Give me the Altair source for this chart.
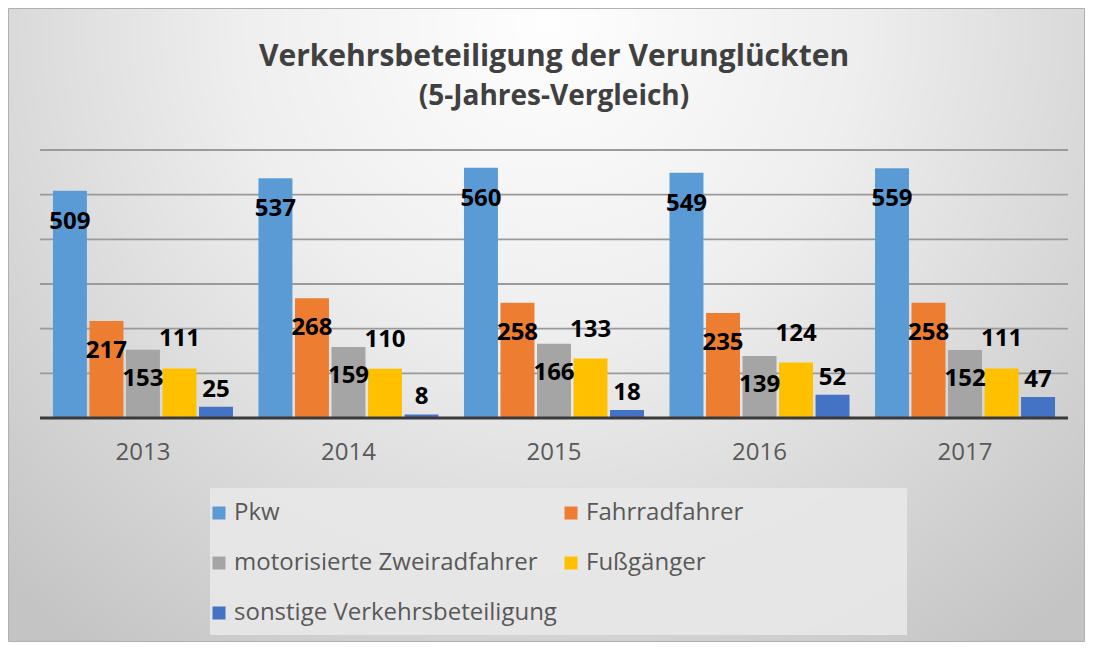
import altair as alt
import pandas as pd

YEARS = ["2013", "2014", "2015", "2016", "2017"]
SERIES = ["Pkw", "Fahrradfahrer", "motorisierte Zweiradfahrer", "Fußgänger",
          "sonstige Verkehrsbeteiligung"]
PKW = [509, 537, 560, 549, 559]
FAHRRAD = [217, 268, 258, 235, 258]
MOTOR = [153, 159, 166, 139, 152]
FUSS = [111, 110, 133, 124, 111]
SONST = [25, 8, 18, 52, 47]
GRID = [100, 200, 300, 400, 500, 600]
BASE = [0]
COLORS = ["#5B9BD5", "#ED7D31", "#A5A5A5", "#FFC000", "#4472C4"]
# legend is laid out column by column: order entries so rows read as in the reference
LEGEND_ORDER = [SERIES[0], SERIES[2], SERIES[4], SERIES[1], SERIES[3]]
LEGEND_COLORS = [COLORS[0], COLORS[2], COLORS[4], COLORS[1], COLORS[3]]

TITLE = "Verkehrsbeteiligung der Verunglückten"
SUBTITLE = "(5-Jahres-Vergleich)"

rows = []
for i, yr in enumerate(YEARS):
    for s, vals in zip(SERIES, [PKW, FAHRRAD, MOTOR, FUSS, SONST]):
        rows.append({"year": yr, "series": s, "value": vals[i]})
df = pd.DataFrame(rows)

FONT = "Open Sans"
W, H = 1028, 268

x_enc = alt.X("year:N", sort=YEARS,
              scale=alt.Scale(paddingInner=0.124, paddingOuter=0.063),
              axis=alt.Axis(title=None, labelFontSize=24, labelColor="#595959",
                            labelFont=FONT, ticks=False, domain=False, grid=False,
                            labelPadding=22, labelAngle=0, zindex=2))
xo_enc = alt.XOffset("series:N", sort=SERIES,
                     scale=alt.Scale(domain=SERIES, paddingInner=0.07, paddingOuter=0))
y_enc = alt.Y("value:Q", scale=alt.Scale(domain=[0, 600], nice=False, zero=True), axis=None)

bg = alt.Chart(pd.DataFrame({"k": [0]})).mark_rect(
    fill=alt.RadialGradient(
        gradient="radial",
        stops=[alt.GradientStop(offset=0, color="#fefefe"),
               alt.GradientStop(offset=0.4, color="#eeeeee"),
               alt.GradientStop(offset=1, color="#c4c4c4")],
        x1=0.5, y1=0.22, r1=0, x2=0.5, y2=0.22, r2=0.72),
    stroke="#b0b0b0", strokeWidth=1
).encode(x=alt.value(-31.5), x2=alt.value(1044.5), y=alt.value(-141.5), y2=alt.value(491.5))

legbox = alt.Chart(pd.DataFrame({"k": [0]})).mark_rect(fill="#e8e8e8", opacity=0.9).encode(
    x=alt.value(170), x2=alt.value(867), y=alt.value(338), y2=alt.value(485))

grid = alt.Chart(pd.DataFrame({"g": GRID})).mark_rule(color="#9a9a9a", strokeWidth=1.8).encode(
    y=alt.Y("g:Q", scale=alt.Scale(domain=[0, 600], nice=False), axis=None))

base = alt.Chart(pd.DataFrame({"g": BASE})).mark_rule(color="#3a3a3a", strokeWidth=3).encode(
    y=alt.Y("g:Q", axis=None))

bars = alt.Chart(df).mark_bar().encode(
    x=x_enc, xOffset=xo_enc, y=y_enc,
    color=alt.Color("series:N", sort=LEGEND_ORDER,
                    scale=alt.Scale(domain=LEGEND_ORDER, range=LEGEND_COLORS),
                    legend=alt.Legend(orient="none", legendX=167, legendY=351, columns=2,
                                      symbolType="square", symbolSize=169,
                                      symbolStrokeWidth=0, labelFontSize=24,
                                      labelColor="#595959", labelFont=FONT,
                                      rowPadding=26, columnPadding=2, title=None,
                                      labelOffset=3, labelLimit=500, zindex=2))
)

DY = {"Pkw": 31, "Fahrradfahrer": 30, "motorisierte Zweiradfahrer": 29,
      "Fußgänger": -29, "sonstige Verkehrsbeteiligung": -17}

labels = []
for s in SERIES:
    labels.append(
        alt.Chart(df).transform_filter(alt.datum.series == s).mark_text(
            font=FONT, fontSize=24, fontWeight="bold", color="#000000",
            baseline="middle", align="center", dy=DY[s]
        ).encode(x=x_enc, xOffset=xo_enc, y=y_enc, text="value:Q")
    )

chart = alt.layer(bg, legbox, grid, bars, base, *labels).properties(
    width=W, height=H,
    padding={"left": 32, "top": 142, "right": 17, "bottom": 224},
    autosize="none",
    title=alt.TitleParams(text=TITLE, subtitle=SUBTITLE, font=FONT, fontSize=30,
                          fontWeight="bold", color="#404040", subtitleFont=FONT,
                          subtitleFontSize=28, subtitleFontWeight="bold",
                          subtitleColor="#404040", anchor="middle", offset=-103,
                          subtitlePadding=11, zindex=2, frame="group")
).configure_view(strokeWidth=0).configure(background="white")

chart.save("out.html", embed_options={"renderer": "svg", "actions": False})
